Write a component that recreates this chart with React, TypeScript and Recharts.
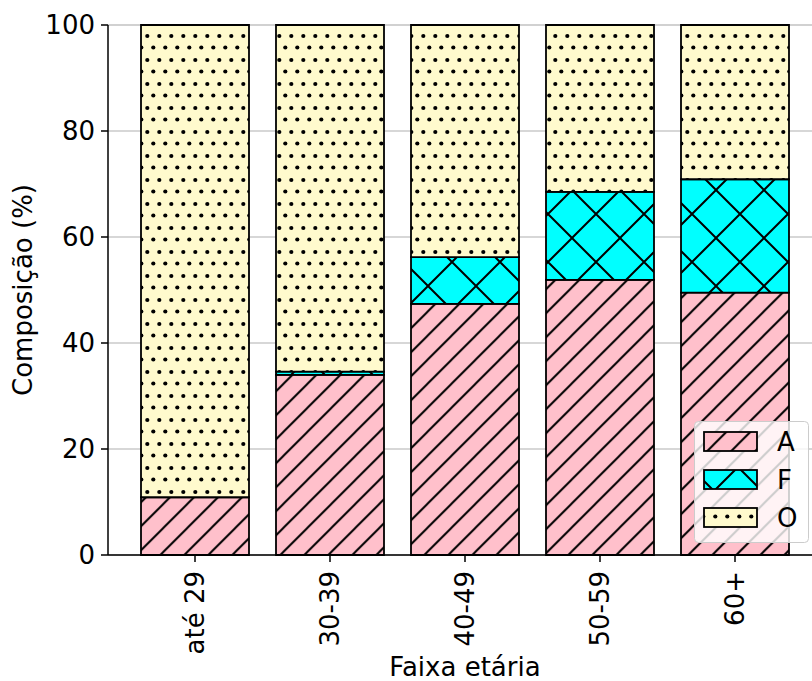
import React from "react";
import { BarChart, Bar, XAxis, YAxis, CartesianGrid, Legend } from "recharts";

const CATEGORIES = ["até 29", "30-39", "40-49", "50-59", "60+"];
const SERIES_A = [10.9, 34.0, 47.4, 51.9, 49.5];
const SERIES_F = [0, 0.6, 8.8, 16.6, 21.4];
const SERIES_O = [89.1, 65.4, 43.8, 31.5, 29.1];
const MAJOR_TICKS = [0, 20, 40, 60, 80, 100];
const MINOR_TICKS = [5, 10, 15, 25, 30, 35, 45, 50, 55, 65, 70, 75, 85, 90, 95];

const SERIES = [
  { key: "A", fill: "url(#hatchA)" },
  { key: "F", fill: "url(#hatchF)" },
  { key: "O", fill: "url(#hatchO)" },
];

const data = CATEGORIES.map((c, i) => ({
  cat: c,
  A: SERIES_A[i],
  F: SERIES_F[i],
  O: SERIES_O[i],
}));

const FONT = "'DejaVu Sans', sans-serif";
const FS = 26;

function RotatedTick(props: any) {
  const { x, y, payload } = props;
  return (
    <g transform={`translate(${x},${y})`}>
      <text
        transform="rotate(-90)"
        textAnchor="end"
        dy="0.35em"
        fontSize={FS}
        fontFamily={FONT}
        fill="#000"
      >
        {payload.value}
      </text>
    </g>
  );
}

function LegendBox() {
  return (
    <svg width={116} height={123} style={{ display: "block" }}>
      <rect x={0.5} y={0.5} width={114} height={121} rx={4} fill="#fff" fillOpacity={0.8} stroke="#cccccc" />
      {SERIES.map((s, i) => (
        <g key={s.key}>
          <rect x={10} y={11 + i * 38} width={53} height={19} fill={s.fill} stroke="#000" strokeWidth={1.8} />
          <text x={83} y={21 + i * 38} dy="0.35em" fontSize={FS} fontFamily={FONT} fill="#000">
            {s.key}
          </text>
        </g>
      ))}
    </svg>
  );
}

export default function App() {
  return (
    <div style={{ position: "absolute", left: 0, top: 0, width: 812, height: 681, overflow: "hidden", background: "#fff" }}>
      <BarChart
        width={812}
        height={681}
        data={data}
        margin={{ top: 25, right: 0, bottom: 0, left: 0 }}
        barCategoryGap="10%"
      >
        <defs>
          <pattern id="hatchA" patternUnits="userSpaceOnUse" width={24} height={24} x={-4.7}>
            <rect width={24} height={24} fill="#ffc0cb" />
            <path d="M-2,26 L26,-2 M-2,2 L2,-2 M22,26 L26,22" stroke="#000" strokeWidth={2} />
          </pattern>
          <pattern id="hatchF" patternUnits="userSpaceOnUse" width={48} height={48} x={-4} y={-2}>
            <rect width={48} height={48} fill="#00ffff" />
            <path
              d="M-4,-4 L52,52 M44,-4 L52,4 M-4,44 L4,52 M52,-4 L-4,52 M-4,4 L4,-4 M44,52 L52,44"
              stroke="#000"
              strokeWidth={2}
            />
          </pattern>
          <pattern id="hatchO" patternUnits="userSpaceOnUse" width={12} height={24} y={6}>
            <rect width={12} height={24} fill="#fffacd" />
            <circle cx={3.3} cy={6} r={2.1} fill="#000" />
            <circle cx={9.3} cy={17.5} r={2.1} fill="#000" />
          </pattern>
        </defs>
        <CartesianGrid vertical={false} yAxisId="minor" stroke="#e6e6e6" strokeWidth={1.2} />
        <CartesianGrid vertical={false} stroke="#b0b0b0" strokeWidth={1.2} />
        <XAxis
          dataKey="cat"
          height={126}
          padding={{ left: 19.5, right: 9.5 }}
          tick={<RotatedTick />}
          tickSize={7}
          tickMargin={9}
          interval={0}
          axisLine={{ stroke: "#000", strokeWidth: 1.5 }}
          tickLine={{ stroke: "#000", strokeWidth: 1.5 }}
        />
        <YAxis yAxisId="minor" hide domain={[0, 100]} ticks={MINOR_TICKS} interval={0} />
        <YAxis
          width={108}
          domain={[0, 100]}
          ticks={MAJOR_TICKS}
          tickSize={7}
          tickMargin={6}
          tick={{ fontSize: FS, fontFamily: FONT, fill: "#000" }}
          axisLine={{ stroke: "#000", strokeWidth: 1.5 }}
          tickLine={{ stroke: "#000", strokeWidth: 1.5 }}
        />
        {SERIES.map((s) => (
          <Bar
            key={s.key}
            dataKey={s.key}
            name={s.key}
            stackId="s"
            fill={s.fill}
            stroke="#000"
            strokeWidth={1.8}
            isAnimationActive={false}
          />
        ))}
        <Legend
          layout="vertical"
          align="center"
          verticalAlign="middle"
          content={() => <LegendBox />}
          wrapperStyle={{ left: 694, top: 421, width: 116, height: 123 }}
        />
        <text
          x={32}
          y={290}
          transform="rotate(-90 32 290)"
          textAnchor="middle"
          fontSize={FS}
          fontFamily={FONT}
          fill="#000"
        >
          Composição (%)
        </text>
        <text x={465} y={676} textAnchor="middle" fontSize={FS} fontFamily={FONT} fill="#000">
          Faixa etária
        </text>
      </BarChart>
    </div>
  );
}
